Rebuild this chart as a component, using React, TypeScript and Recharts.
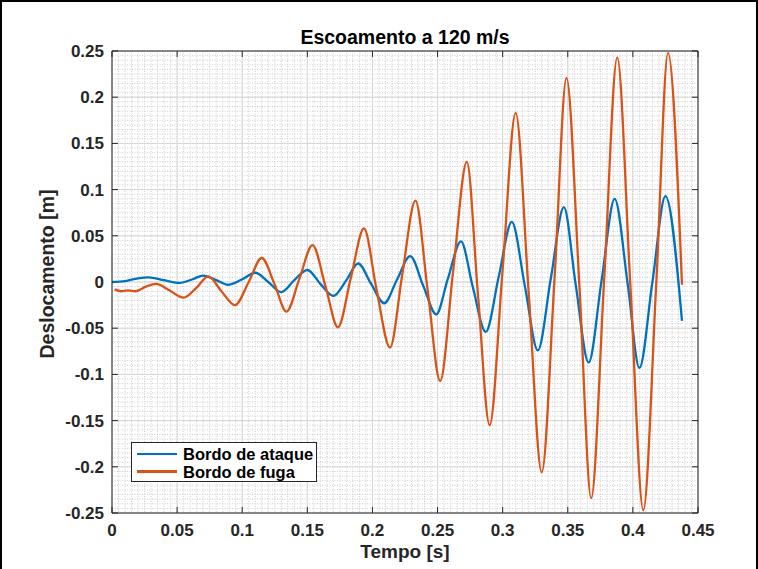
import React from 'react';
import { LineChart, Line, XAxis, YAxis, CartesianGrid, ReferenceLine } from 'recharts';

// Bordo de ataque (azul)
const tempoAtaque = [
  0, 0.01, 0.02, 0.028, 0.04, 0.052, 0.062, 0.07, 0.08, 0.089, 0.1, 0.11, 0.12, 0.13,
  0.14, 0.15, 0.16, 0.17, 0.18, 0.189, 0.199, 0.209, 0.219, 0.229, 0.239, 0.249, 0.258,
  0.268, 0.277, 0.287, 0.297, 0.307, 0.317, 0.327, 0.337, 0.347, 0.356, 0.366, 0.376,
  0.386, 0.396, 0.405, 0.415, 0.425, 0.4377,
];
const bordoAtaque = [
  0, 0.001, 0.004, 0.005, 0.002, -0.001, 0.003, 0.007, 0.002, -0.003, 0.003, 0.01, 0.0, -0.011,
  0.002, 0.013, -0.002, -0.015, 0.002, 0.02, -0.002, -0.023, 0.003, 0.028, -0.004, -0.035, 0.004,
  0.044, -0.005, -0.054, 0.006, 0.065, -0.004, -0.074, 0.004, 0.081, -0.002, -0.087, 0.002,
  0.09, -0.002, -0.093, 0.0, 0.093, -0.042,
];

// Bordo de fuga (laranja)
const tempoFuga = [
  0.002, 0.007, 0.012, 0.018, 0.026, 0.034, 0.044, 0.055, 0.065, 0.074, 0.084, 0.0945, 0.105,
  0.115, 0.125, 0.134, 0.144, 0.154, 0.164, 0.1735, 0.1835, 0.1935, 0.203, 0.2135, 0.223, 0.233,
  0.2425, 0.252, 0.262, 0.2725, 0.281, 0.29, 0.3, 0.31, 0.32, 0.33, 0.34, 0.349, 0.359, 0.368,
  0.378, 0.388, 0.398, 0.408, 0.418, 0.427, 0.4377,
];
const bordoFuga = [
  -0.008, -0.01, -0.009, -0.01, -0.005, -0.002, -0.009, -0.017, -0.006, 0.006, -0.01, -0.025, 0.0,
  0.026, -0.003, -0.032, 0.004, 0.04, -0.005, -0.049, 0.005, 0.058, -0.007, -0.071, 0.009, 0.088,
  -0.01, -0.107, 0.012, 0.13, -0.013, -0.155, 0.014, 0.183, -0.012, -0.206, 0.008, 0.221, -0.006, -0.234,
  0.004, 0.243, -0.002, -0.247, 0.0, 0.248, -0.003,
];

const xTicks = [0, 0.05, 0.1, 0.15, 0.2, 0.25, 0.3, 0.35, 0.4, 0.45];
const yTicks = [-0.25, -0.2, -0.15, -0.1, -0.05, 0, 0.05, 0.1, 0.15, 0.2, 0.25];
const seriesNames = ['Bordo de ataque', 'Bordo de fuga'];
const seriesColors = ['#0072BD', '#D95319'];

const FONT = '"Liberation Sans", Arial, Helvetica, sans-serif';
const AXIS = '#262626';

// minor grid every 1/10 of a major step (fractions of the plot box)
const minorXFrac = Array.from({ length: 91 }, (_, i) => i / 90);
const minorYFrac = Array.from({ length: 101 }, (_, i) => i / 100);

const ataqueData = tempoAtaque.map((t, i) => ({ t, v: bordoAtaque[i] }));
const fugaData = tempoFuga.map((t, i) => ({ t, v: bordoFuga[i] }));

const W = 758;
const H = 569;
const M = { top: 51, right: 60, bottom: 0, left: 0 };

export default function App() {
  const tickStyle = { fontSize: 17, fontWeight: 700, fill: AXIS, fontFamily: FONT };

  return (
    <div style={{ position: 'absolute', left: 0, top: 0, width: W, height: H, background: '#fff', fontFamily: FONT }}>
      <LineChart width={W} height={H} data={ataqueData} margin={M}>
        <CartesianGrid
          stroke="#cdcdcd"
          strokeDasharray="1 1.5"
          verticalCoordinatesGenerator={({ offset }: any) =>
            minorXFrac.map((f) => offset.left + f * offset.width)
          }
          horizontalCoordinatesGenerator={({ offset }: any) =>
            minorYFrac.map((f) => offset.top + f * offset.height)
          }
        />
        <CartesianGrid stroke="#d6d6d6" />
        <XAxis
          type="number"
          dataKey="t"
          domain={[0, 0.45]}
          ticks={xTicks}
          allowDataOverflow
          height={56}
          tickSize={0}
          tickMargin={11}
          tickLine={false}
          axisLine={{ stroke: AXIS }}
          tick={tickStyle}
          tickFormatter={(v) => String(v)}
        />
        <YAxis
          type="number"
          domain={[-0.25, 0.25]}
          ticks={yTicks}
          allowDataOverflow
          width={112}
          tickSize={0}
          tickMargin={8}
          tickLine={false}
          axisLine={{ stroke: AXIS }}
          tick={tickStyle}
          tickFormatter={(v) => String(v)}
        />
        <ReferenceLine y={0.25} stroke={AXIS} />
        <ReferenceLine x={0.45} stroke={AXIS} />
        {xTicks.map((t) => (
          <ReferenceLine key={'xb' + t} segment={[{ x: t, y: -0.25 }, { x: t, y: -0.2435 }]} stroke={AXIS} />
        ))}
        {xTicks.map((t) => (
          <ReferenceLine key={'xt' + t} segment={[{ x: t, y: 0.25 }, { x: t, y: 0.2435 }]} stroke={AXIS} />
        ))}
        {yTicks.map((v) => (
          <ReferenceLine key={'yl' + v} segment={[{ x: 0, y: v }, { x: 0.0046, y: v }]} stroke={AXIS} />
        ))}
        {yTicks.map((v) => (
          <ReferenceLine key={'yr' + v} segment={[{ x: 0.45, y: v }, { x: 0.4454, y: v }]} stroke={AXIS} />
        ))}
        <Line
          data={ataqueData}
          dataKey="v"
          name={seriesNames[0]}
          type="monotone"
          stroke={seriesColors[0]}
          strokeWidth={2.3}
          dot={false}
          isAnimationActive={false}
        />
        <Line
          data={fugaData}
          dataKey="v"
          name={seriesNames[1]}
          type="monotone"
          stroke={seriesColors[1]}
          strokeWidth={2.3}
          dot={false}
          isAnimationActive={false}
        />
      </LineChart>

      {/* title */}
      <div style={{ position: 'absolute', left: 112, width: 586, top: 26, textAlign: 'center', fontSize: 19.5, fontWeight: 700, color: '#000', lineHeight: '22px' }}>
        Escoamento a 120 m/s
      </div>
      {/* x label */}
      <div style={{ position: 'absolute', left: 112, width: 586, top: 542, textAlign: 'center', fontSize: 19, fontWeight: 700, color: AXIS, lineHeight: '20px' }}>
        Tempo [s]
      </div>
      {/* y label */}
      <div
        style={{
          position: 'absolute', left: 47, top: 274, width: 300, marginLeft: -150, marginTop: -11,
          textAlign: 'center', fontSize: 19.5, fontWeight: 700, color: AXIS, lineHeight: '22px',
          transform: 'rotate(-90deg)',
        }}
      >
        Deslocamento [m]
      </div>
      {/* legend */}
      <div style={{ position: 'absolute', left: 131, top: 442, width: 186, height: 40, background: '#fff', border: '1px solid ' + AXIS, boxSizing: 'border-box' }}>
        {seriesNames.map((n, i) => (
          <div key={n} style={{ position: 'absolute', left: 5, top: 2 + i * 17.5, height: 18, display: 'flex', alignItems: 'center' }}>
            <div style={{ width: 40, height: 2.3, background: seriesColors[i], marginRight: 6 }} />
            <span style={{ fontSize: 16.5, fontWeight: 700, color: '#000', lineHeight: '18px' }}>{n}</span>
          </div>
        ))}
      </div>
      {/* figure frame */}
      <div style={{ position: 'absolute', left: 0, top: 0, width: W, height: H, borderLeft: '2px solid #000', borderTop: '2px solid #000', borderRight: '2px solid #000', boxSizing: 'border-box', pointerEvents: 'none' }} />
    </div>
  );
}
